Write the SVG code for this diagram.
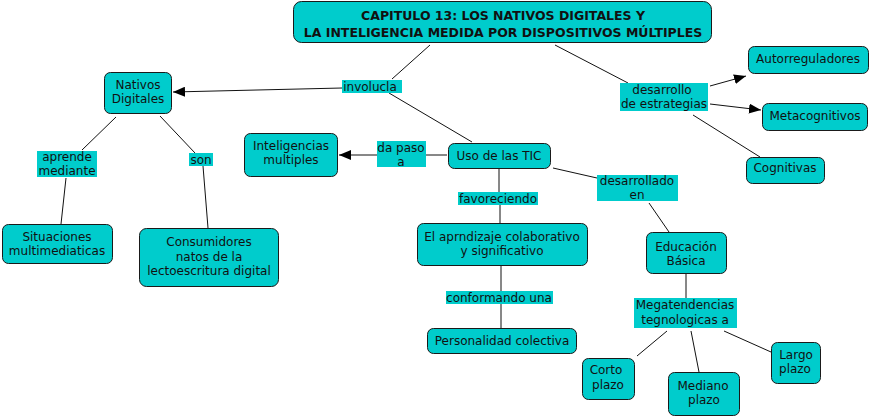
<svg xmlns="http://www.w3.org/2000/svg" width="871" height="417" viewBox="0 0 871 417">
<style>
.n rect{fill:#00CCCC;stroke:#1a1a1a;stroke-width:1}
.l rect{fill:#00CCCC;stroke:none}
text{font-family:"DejaVu Sans",Verdana,sans-serif;font-size:12px;fill:#111;text-anchor:middle}
.t text{font-weight:bold;font-size:12.5px}
.c line{stroke:#111;stroke-width:1}
</style>
<defs>
<marker id="ah" viewBox="0 0 12 10" refX="12" refY="5" markerWidth="12" markerHeight="10" markerUnits="userSpaceOnUse" orient="auto">
<path d="M0,0 L12,5 L0,10 z" fill="#000"/>
</marker>
</defs>
<rect width="871" height="417" fill="#fff"/>
<g class="c">
<line x1="430" y1="45" x2="392" y2="79"/>
<line x1="342" y1="88" x2="173" y2="92" marker-end="url(#ah)"/>
<line x1="389" y1="93" x2="472" y2="142"/>
<line x1="116" y1="117" x2="82" y2="150"/>
<line x1="66" y1="178" x2="61" y2="224"/>
<line x1="160" y1="116" x2="195" y2="153"/>
<line x1="203" y1="166" x2="208" y2="228"/>
<line x1="447" y1="155" x2="426" y2="155"/>
<line x1="377" y1="155" x2="339" y2="155" marker-end="url(#ah)"/>
<line x1="499" y1="169" x2="499" y2="192"/>
<line x1="500" y1="205" x2="500" y2="223"/>
<line x1="553" y1="168" x2="597" y2="178"/>
<line x1="649" y1="203" x2="669" y2="232"/>
<line x1="686" y1="273" x2="686" y2="298"/>
<line x1="501" y1="265" x2="501" y2="291"/>
<line x1="501" y1="304" x2="501" y2="328"/>
<line x1="667" y1="331" x2="637" y2="356"/>
<line x1="691" y1="331" x2="699" y2="372"/>
<line x1="724" y1="331" x2="771" y2="352"/>
<line x1="555" y1="45" x2="628" y2="83"/>
<line x1="710" y1="86" x2="746" y2="76" marker-end="url(#ah)"/>
<line x1="710" y1="104" x2="761" y2="110" marker-end="url(#ah)"/>
<line x1="693" y1="115" x2="760" y2="157"/>
</g>
<g id="titulo" class="n t">
<rect x="293.5" y="1.5" width="418" height="41" rx="8"/>
<text x="503" y="20">CAPITULO 13: LOS NATIVOS DIGITALES Y</text>
<text x="503" y="37">LA INTELIGENCIA MEDIDA POR DISPOSITIVOS MÚLTIPLES</text>
</g>
<g id="nativos" class="n">
<rect x="104.5" y="72.5" width="67" height="41" rx="6"/>
<text x="138" y="89">Nativos</text>
<text x="138" y="103">Digitales</text>
</g>
<g id="lbl-involucla" class="l">
<rect x="342" y="80" width="60" height="13"/>
<text x="370" y="91">involucla</text>
</g>
<g id="lbl-aprende" class="l">
<rect x="37" y="151" width="60" height="26"/>
<text x="67" y="161">aprende</text>
<text x="67" y="175">mediante</text>
</g>
<g id="situaciones" class="n">
<rect x="2.5" y="224.5" width="110" height="39" rx="6"/>
<text x="57" y="241">Situaciones</text>
<text x="57" y="255">multimediaticas</text>
</g>
<g id="lbl-son" class="l">
<rect x="189" y="153" width="24" height="13"/>
<text x="201" y="164">son</text>
</g>
<g id="consumidores" class="n">
<rect x="139.5" y="228.5" width="139" height="58" rx="7"/>
<text x="209" y="246">Consumidores</text>
<text x="209" y="261">natos de la</text>
<text x="209" y="275">lectoescritura digital</text>
</g>
<g id="inteligencias" class="n">
<rect x="244.5" y="133.5" width="93" height="43" rx="6"/>
<text x="291" y="150">Inteligencias</text>
<text x="291" y="164">multiples</text>
</g>
<g id="lbl-dapaso" class="l">
<rect x="377" y="141" width="49" height="26"/>
<text x="401" y="152">da paso</text>
<text x="401" y="166">a</text>
</g>
<g id="uso" class="n">
<rect x="448.5" y="143.5" width="102" height="25" rx="6"/>
<text x="499" y="160">Uso de las TIC</text>
</g>
<g id="lbl-favoreciendo" class="l">
<rect x="458" y="192" width="80" height="13"/>
<text x="498" y="203">favoreciendo</text>
</g>
<g id="aprendizaje" class="n">
<rect x="417.5" y="223.5" width="170" height="42" rx="6"/>
<text x="502" y="241">El aprndizaje colaborativo</text>
<text x="502" y="255">y significativo</text>
</g>
<g id="lbl-conformando" class="l">
<rect x="446" y="291" width="107" height="13"/>
<text x="499" y="302">conformando una</text>
</g>
<g id="personalidad" class="n">
<rect x="427.5" y="328.5" width="149" height="25" rx="6"/>
<text x="502" y="345">Personalidad colectiva</text>
</g>
<g id="lbl-desarrollado" class="l">
<rect x="597" y="175" width="81" height="26"/>
<text x="637" y="185">desarrollado</text>
<text x="637" y="199">en</text>
</g>
<g id="educacion" class="n">
<rect x="646.5" y="232.5" width="80" height="41" rx="6"/>
<text x="686" y="251">Educación</text>
<text x="686" y="265">Básica</text>
</g>
<g id="lbl-megatendencias" class="l">
<rect x="634" y="298" width="103" height="30"/>
<text x="685" y="309">Megatendencias</text>
<text x="685" y="324">tegnologicas a</text>
</g>
<g id="corto" class="n">
<rect x="582.5" y="358.5" width="52" height="41" rx="6"/>
<text x="606" y="374">Corto</text>
<text x="608" y="389">plazo</text>
</g>
<g id="mediano" class="n">
<rect x="668.5" y="372.5" width="71" height="43" rx="6"/>
<text x="703" y="390">Mediano</text>
<text x="704" y="404">plazo</text>
</g>
<g id="largo" class="n">
<rect x="771.5" y="342.5" width="49" height="41" rx="6"/>
<text x="796" y="359">Largo</text>
<text x="795" y="373">plazo</text>
</g>
<g id="lbl-desarrollo" class="l">
<rect x="620" y="83" width="88" height="28"/>
<text x="662" y="94">desarrollo</text>
<text x="664" y="108">de estrategias</text>
</g>
<g id="autorreguladores" class="n">
<rect x="748.5" y="46.5" width="120" height="27" rx="6"/>
<text x="808" y="63">Autorreguladores</text>
</g>
<g id="metacognitivos" class="n">
<rect x="762.5" y="103.5" width="105" height="27" rx="6"/>
<text x="815" y="120">Metacognitivos</text>
</g>
<g id="cognitivas" class="n">
<rect x="746.5" y="157.5" width="78" height="26" rx="6"/>
<text x="785" y="172">Cognitivas</text>
</g>
</svg>
